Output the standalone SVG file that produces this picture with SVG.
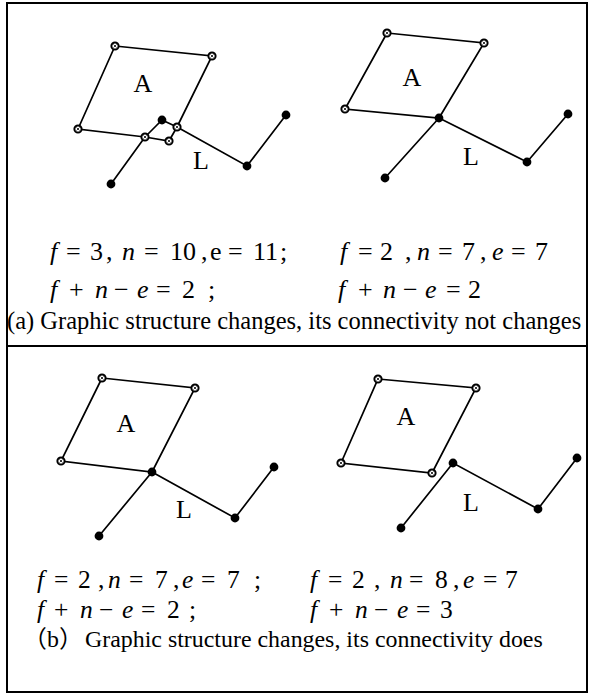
<svg xmlns="http://www.w3.org/2000/svg" xmlns:xlink="http://www.w3.org/1999/xlink" width="590" height="694" viewBox="0 0 590 694">
<style>
.frame{fill:none;stroke:#000;stroke-width:2}
.edge{stroke:#000;stroke-width:1.7;fill:none;stroke-linecap:round}
.lbl{font-family:"Liberation Serif","Times New Roman",serif;font-size:26px;fill:#000;text-anchor:middle}
.fa{font-family:"Liberation Serif","Times New Roman",serif;font-size:26px;fill:#000}
.fb{font-family:"Liberation Serif","Times New Roman",serif;font-size:25.5px;fill:#000}
.i{font-style:italic}
.cap{font-family:"Liberation Serif","Times New Roman","Noto Sans CJK SC",serif;font-size:24.5px;fill:#000}
.capb{font-family:"Liberation Serif","Times New Roman","Noto Sans CJK SC",serif;font-size:23.9px;fill:#000}
.cj{font-family:"Noto Sans CJK SC",sans-serif}
</style>
<defs>
<g id="hollow"><circle r="3.6" fill="#fff" stroke="#000" stroke-width="2"/><path d="M-1.5,1.5 L1.5,-1.5 M-1.5,-1.5 L1.5,1.5" stroke="#222" stroke-width="0.9"/></g>
<circle id="filled" r="4.4" fill="#000"/>
</defs>
<rect class="frame" x="7" y="3" width="580" height="689"/>
<line class="frame" x1="7" y1="346" x2="587" y2="346"/>

<g id="connectors">
<path class="edge" d="M115,46 L212,56 L177,127 M115,46 L78,129 L145,137 L169,141 L177,127 M145,137 L162,120 L177,127 M145,137 L111,184 M177,127 L247,166 L286,115"/>
<path class="edge" d="M387,33 L484,43 L439,118 L345,109 Z M439,118 L385,178 M439,118 L527,162 L568,114"/>
<path class="edge" d="M102,378 L195,388 L152,472 L61,461 Z M152,472 L99,536 M152,472 L235,518 L274,467"/>
<path class="edge" d="M378,379 L476,388 L432,473 L341,463 Z M401,528 L453,463 L538,509 L577,458"/>
</g>

<g id="a1-n1"><use xlink:href="#hollow" x="115" y="46"/></g>
<g id="a1-n2"><use xlink:href="#hollow" x="212" y="56"/></g>
<g id="a1-n3"><use xlink:href="#hollow" x="78" y="129"/></g>
<g id="a1-n4"><use xlink:href="#hollow" x="177" y="127"/></g>
<g id="a1-n5"><use xlink:href="#hollow" x="145" y="137"/></g>
<g id="a1-n6"><use xlink:href="#hollow" x="169" y="141"/></g>
<g id="a1-n7"><use xlink:href="#filled" x="162" y="120"/></g>
<g id="a1-n8"><use xlink:href="#filled" x="111" y="184"/></g>
<g id="a1-n9"><use xlink:href="#filled" x="247" y="166"/></g>
<g id="a1-n10"><use xlink:href="#filled" x="286" y="115"/></g>
<g id="a1-labels"><text class="lbl" x="143" y="92">A</text><text class="lbl" x="201" y="169">L</text></g>

<g id="a2-n1"><use xlink:href="#hollow" x="387" y="33"/></g>
<g id="a2-n2"><use xlink:href="#hollow" x="484" y="43"/></g>
<g id="a2-n3"><use xlink:href="#hollow" x="345" y="109"/></g>
<g id="a2-n4"><use xlink:href="#filled" x="439" y="118"/></g>
<g id="a2-n5"><use xlink:href="#filled" x="385" y="178"/></g>
<g id="a2-n6"><use xlink:href="#filled" x="527" y="162"/></g>
<g id="a2-n7"><use xlink:href="#filled" x="568" y="114"/></g>
<g id="a2-labels"><text class="lbl" x="412" y="86">A</text><text class="lbl" x="471" y="165">L</text></g>

<g id="b1-n1"><use xlink:href="#hollow" x="102" y="378"/></g>
<g id="b1-n2"><use xlink:href="#hollow" x="195" y="388"/></g>
<g id="b1-n3"><use xlink:href="#hollow" x="61" y="461"/></g>
<g id="b1-n4"><use xlink:href="#filled" x="152" y="472"/></g>
<g id="b1-n5"><use xlink:href="#filled" x="99" y="536"/></g>
<g id="b1-n6"><use xlink:href="#filled" x="235" y="518"/></g>
<g id="b1-n7"><use xlink:href="#filled" x="274" y="467"/></g>
<g id="b1-labels"><text class="lbl" x="126" y="432">A</text><text class="lbl" x="184" y="518">L</text></g>

<g id="b2-n1"><use xlink:href="#hollow" x="378" y="379"/></g>
<g id="b2-n2"><use xlink:href="#hollow" x="476" y="388"/></g>
<g id="b2-n3"><use xlink:href="#hollow" x="341" y="463"/></g>
<g id="b2-n4"><use xlink:href="#hollow" x="432" y="473"/></g>
<g id="b2-n5"><use xlink:href="#filled" x="453" y="463"/></g>
<g id="b2-n6"><use xlink:href="#filled" x="401" y="528"/></g>
<g id="b2-n7"><use xlink:href="#filled" x="538" y="509"/></g>
<g id="b2-n8"><use xlink:href="#filled" x="577" y="458"/></g>
<g id="b2-labels"><text class="lbl" x="406" y="425">A</text><text class="lbl" x="471" y="511">L</text></g>

<g id="formulas-a">
<text class="fa" y="260"><tspan class="i" x="50">f</tspan><tspan x="66">=</tspan><tspan x="90">3</tspan><tspan x="106">,</tspan><tspan class="i" x="122">n</tspan><tspan x="144">=</tspan><tspan x="170">10</tspan><tspan x="201">,</tspan><tspan x="210">e</tspan><tspan x="228">=</tspan><tspan x="253">11</tspan><tspan x="280">;</tspan></text>
<text class="fa" y="298"><tspan class="i" x="50">f</tspan><tspan x="69">+</tspan><tspan class="i" x="95">n</tspan><tspan x="114">−</tspan><tspan class="i" x="137">e</tspan><tspan x="156">=</tspan><tspan x="182">2</tspan><tspan x="208">;</tspan></text>
<text class="fa" y="260"><tspan class="i" x="340">f</tspan><tspan x="358">=</tspan><tspan x="380">2</tspan><tspan x="405">,</tspan><tspan class="i" x="417">n</tspan><tspan x="438">=</tspan><tspan x="462">7</tspan><tspan x="480">,</tspan><tspan class="i" x="492">e</tspan><tspan x="511">=</tspan><tspan x="535">7</tspan></text>
<text class="fa" y="298"><tspan class="i" x="338">f</tspan><tspan x="358">+</tspan><tspan class="i" x="383">n</tspan><tspan x="403">−</tspan><tspan class="i" x="425">e</tspan><tspan x="446">=</tspan><tspan x="468">2</tspan></text>
<text class="cap" x="7" y="329">(a) Graphic structure changes, its connectivity not changes</text>
</g>

<g id="formulas-b">
<text class="fb" y="588"><tspan class="i" x="37">f</tspan><tspan x="54">=</tspan><tspan x="78">2</tspan><tspan x="98">,</tspan><tspan class="i" x="108">n</tspan><tspan x="129">=</tspan><tspan x="155">7</tspan><tspan x="173">,</tspan><tspan class="i" x="182">e</tspan><tspan x="201">=</tspan><tspan x="227">7</tspan><tspan x="254">;</tspan></text>
<text class="fb" y="618"><tspan class="i" x="37">f</tspan><tspan x="54">+</tspan><tspan class="i" x="80">n</tspan><tspan x="99">−</tspan><tspan class="i" x="122">e</tspan><tspan x="141">=</tspan><tspan x="167">2</tspan><tspan x="189">;</tspan></text>
<text class="fb" y="588"><tspan class="i" x="310">f</tspan><tspan x="328">=</tspan><tspan x="352">2</tspan><tspan x="374">,</tspan><tspan class="i" x="390">n</tspan><tspan x="409">=</tspan><tspan x="435">8</tspan><tspan x="453">,</tspan><tspan class="i" x="463">e</tspan><tspan x="483">=</tspan><tspan x="505">7</tspan></text>
<text class="fb" y="618"><tspan class="i" x="310">f</tspan><tspan x="329">+</tspan><tspan class="i" x="355">n</tspan><tspan x="374">−</tspan><tspan class="i" x="397">e</tspan><tspan x="416">=</tspan><tspan x="440">3</tspan></text>
<text class="capb" y="647"><tspan class="cj" x="23">（</tspan><tspan x="47">b</tspan><tspan class="cj" x="59">）</tspan><tspan x="85">Graphic structure changes, its connectivity does</tspan></text>
</g>
</svg>
